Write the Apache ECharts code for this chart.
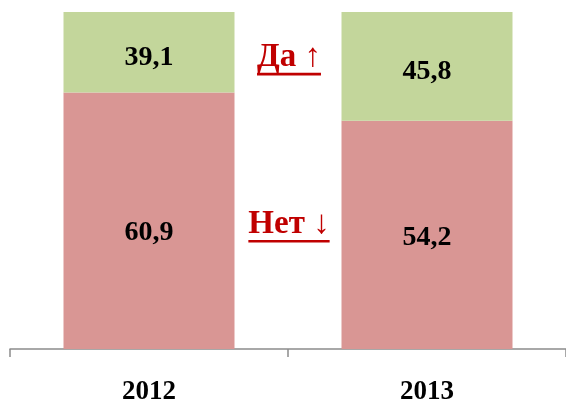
<!DOCTYPE html>
<html>
<head>
<meta charset="utf-8">
<script src="https://cdn.jsdelivr.net/npm/echarts@6/dist/echarts.min.js"></script>
<style>
  html, body { margin: 0; padding: 0; background: #ffffff; }
  #chart { width: 566px; height: 401px; }
</style>
</head>
<body>
<div id="chart"></div>
<script>
// Survey answers by year, percent
const years = ['2012', '2013'];
const noValues = [60.9, 54.2];   // «Нет»
const yesValues = [39.1, 45.8];  // «Да»

// Per-bar vertical nudges for the value labels
const noLabelOffsets = [12.5, 3];
const yesLabelOffsets = [6, 5.5];

const FONT = '"Liberation Serif", "Times New Roman", serif';
const RED = '#D99694';
const GREEN = '#C3D69B';
const ACCENT = '#C00000';

const chart = echarts.init(document.getElementById('chart'), null, { renderer: 'canvas' });

const fmt = p => String(p.value).replace('.', ',');

function items(values, offsets) {
  return values.map((v, i) => ({ value: v, label: { offset: [0, offsets[i]] } }));
}

const valueLabel = {
  show: true,
  position: 'inside',
  formatter: fmt,
  fontFamily: FONT,
  fontWeight: 'bold',
  fontSize: 28,
  color: '#000000'
};

// Underlined annotation text, centred on x
function annotation(text, x, yMid, lineTop) {
  const font = 'bold 33px ' + FONT;
  const ctx = document.createElement('canvas').getContext('2d');
  ctx.font = font;
  const w = ctx.measureText(text).width;
  return [
    {
      type: 'text',
      x: x,
      y: yMid,
      style: {
        text: text,
        font: font,
        fill: ACCENT,
        align: 'center',
        verticalAlign: 'middle'
      }
    },
    {
      type: 'rect',
      shape: { x: x - w / 2, y: lineTop, width: w, height: 2.6 },
      style: { fill: ACCENT }
    }
  ];
}

const option = {
  animation: false,
  grid: { left: 10, right: 0, top: 12, bottom: 52, containLabel: false, outerBoundsMode: 'none' },
  xAxis: {
    type: 'category',
    data: years,
    axisLine: { show: true, lineStyle: { color: '#8c8c8c', width: 1.5 } },
    axisTick: { show: true, length: 8, lineStyle: { color: '#8c8c8c', width: 1.5 } },
    axisLabel: {
      fontFamily: FONT,
      fontWeight: 'bold',
      fontSize: 27,
      color: '#000000',
      margin: 30
    }
  },
  yAxis: {
    type: 'value',
    min: 0,
    max: 80,
    show: false,
    splitLine: { show: false }
  },
  series: [
    {
      name: 'Нет',
      type: 'bar',
      stack: 'total',
      barWidth: 171,
      clip: true,
      itemStyle: { color: RED },
      label: valueLabel,
      data: items(noValues, noLabelOffsets)
    },
    {
      name: 'Да',
      type: 'bar',
      stack: 'total',
      barWidth: 171,
      clip: true,
      itemStyle: { color: GREEN },
      label: valueLabel,
      data: items(yesValues, yesLabelOffsets)
    }
  ],
  graphic: [].concat(
    annotation('Да ↑', 289, 57, 72.8),
    annotation('Нет ↓', 289, 224, 240)
  )
};

chart.setOption(option);
</script>
</body>
</html>
